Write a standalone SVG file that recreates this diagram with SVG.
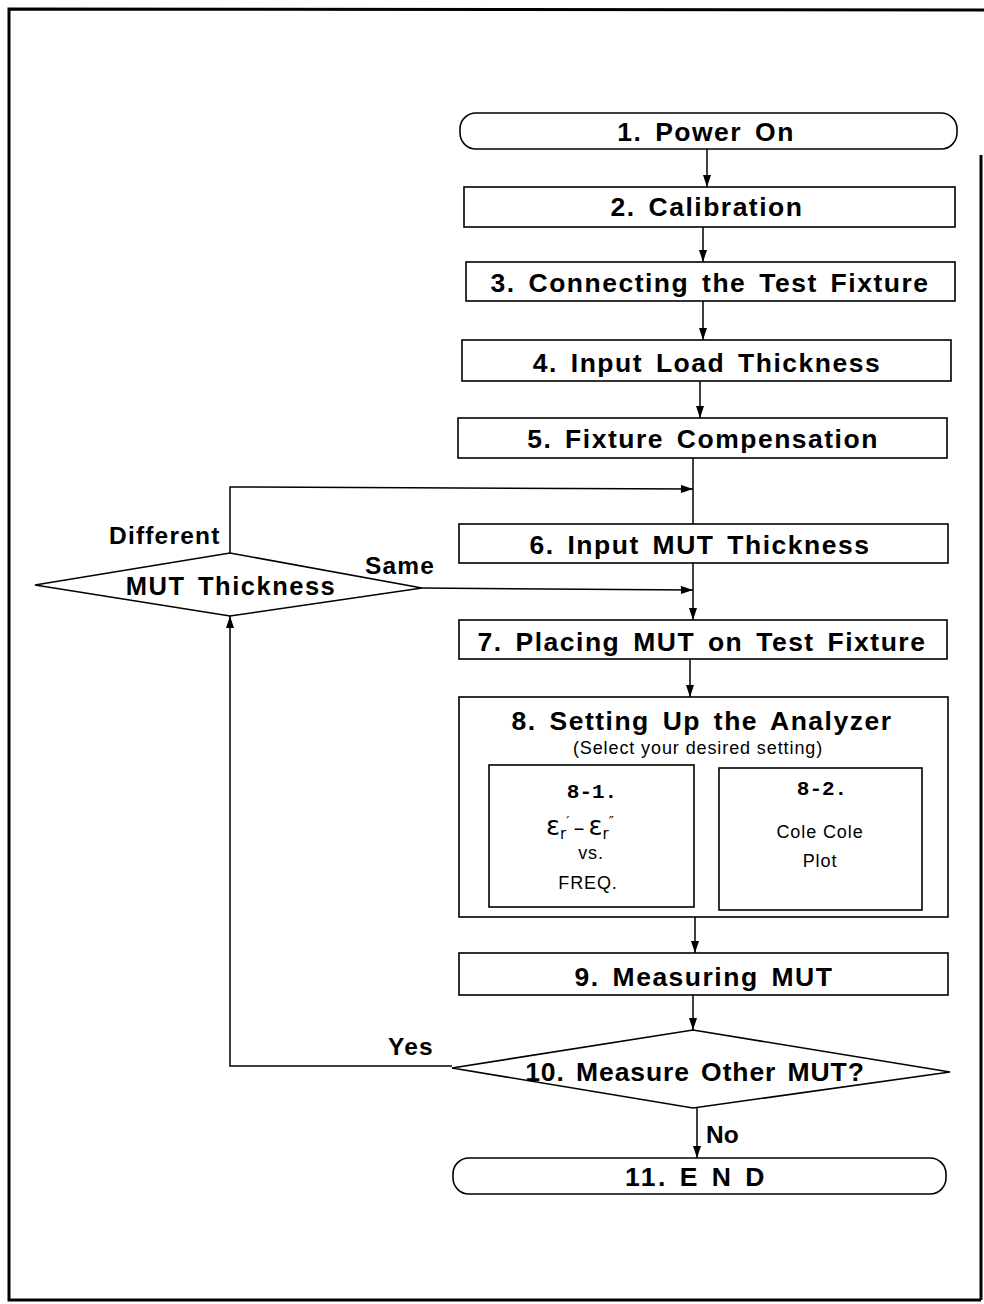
<svg xmlns="http://www.w3.org/2000/svg" width="984" height="1304" viewBox="0 0 984 1304">
<defs>
<marker id="ah" viewBox="0 0 12 8" refX="12" refY="4" markerWidth="12" markerHeight="8" markerUnits="userSpaceOnUse" orient="auto">
<path d="M0,0 L12,4 L0,8 Z" fill="#000"/>
</marker>
</defs>
<style>
.box{fill:#fff;stroke:#000;stroke-width:1.6}
.frame{fill:none;stroke:#000;stroke-width:3}
.ln{fill:none;stroke:#000;stroke-width:1.5}
.t{font-family:"Liberation Sans",Arial,sans-serif;font-weight:bold;font-size:26.5px;letter-spacing:1.5px;word-spacing:4px;text-anchor:middle;fill:#000}
.lb{font-family:"Liberation Sans",Arial,sans-serif;font-weight:bold;font-size:24.5px;letter-spacing:1.2px;fill:#000}
.s{font-family:"Liberation Sans",Arial,sans-serif;font-size:18px;letter-spacing:0.9px;text-anchor:middle;fill:#000}
.m{font-family:"Liberation Mono","Courier New",monospace;font-weight:bold;font-size:21px;text-anchor:middle;fill:#000}
.e{font-family:"DejaVu Sans",sans-serif;fill:#000}
</style>
<rect width="984" height="1304" fill="#fff"/>
<g id="frame">
<path class="frame" d="M984,10 L9,9 L9,1300 L981,1300 M981,1300 L981,155"/>
</g>
<g id="connectors">
<line class="ln" x1="707" y1="149" x2="707" y2="187" marker-end="url(#ah)"/>
<line class="ln" x1="703" y1="227" x2="703" y2="262" marker-end="url(#ah)"/>
<line class="ln" x1="703" y1="301" x2="703" y2="340" marker-end="url(#ah)"/>
<line class="ln" x1="700" y1="381" x2="700" y2="418" marker-end="url(#ah)"/>
<line class="ln" x1="693" y1="458" x2="693" y2="524"/>
<polyline class="ln" points="230,553 230,487 693,489" marker-end="url(#ah)"/>
<line class="ln" x1="693" y1="563" x2="693" y2="620" marker-end="url(#ah)"/>
<line class="ln" x1="422" y1="588" x2="693" y2="590" marker-end="url(#ah)"/>
<line class="ln" x1="690" y1="659" x2="690" y2="697" marker-end="url(#ah)"/>
<line class="ln" x1="695" y1="917" x2="695" y2="953" marker-end="url(#ah)"/>
<line class="ln" x1="693" y1="995" x2="693" y2="1030" marker-end="url(#ah)"/>
<polyline class="ln" points="452,1066 230,1066 230,616" marker-end="url(#ah)"/>
<line class="ln" x1="697" y1="1108" x2="697" y2="1158" marker-end="url(#ah)"/>
<text class="lb" x="109" y="544">Different</text>
<text class="lb" x="365" y="574">Same</text>
<text class="lb" x="388" y="1055">Yes</text>
<text class="lb" x="706" y="1143" style="letter-spacing:0">No</text>
</g>
<g id="n1">
<rect class="box" x="460" y="113" width="497" height="36" rx="16"/>
<text class="t" x="706" y="141">1. Power On</text>
</g>
<g id="n2">
<rect class="box" x="464" y="187" width="491" height="40"/>
<text class="t" x="707" y="216">2. Calibration</text>
</g>
<g id="n3">
<rect class="box" x="466" y="262" width="489" height="39"/>
<text class="t" x="710" y="292">3. Connecting the Test Fixture</text>
</g>
<g id="n4">
<rect class="box" x="462" y="340" width="489" height="41"/>
<text class="t" x="707" y="372">4. Input Load Thickness</text>
</g>
<g id="n5">
<rect class="box" x="458" y="418" width="489" height="40"/>
<text class="t" x="703" y="448">5. Fixture Compensation</text>
</g>
<g id="n6">
<rect class="box" x="459" y="524" width="489" height="39"/>
<text class="t" x="700" y="554">6. Input MUT Thickness</text>
</g>
<g id="dThick">
<polygon class="box" points="35,585 230,553 422,588 230,616"/>
<text class="t" x="231" y="595" style="font-size:25.5px">MUT Thickness</text>
</g>
<g id="n7">
<rect class="box" x="459" y="620" width="488" height="39"/>
<text class="t" x="702" y="651">7. Placing MUT on Test Fixture</text>
</g>
<g id="n8">
<rect class="box" x="459" y="697" width="489" height="220"/>
<text class="t" x="702" y="730">8. Setting Up the Analyzer</text>
<text class="s" x="698" y="754">(Select your desired setting)</text>
<g id="n8-1">
<rect class="box" x="489" y="765" width="205" height="142"/>
<text class="m" x="592" y="798">8-1.</text>
<text class="e" x="546" y="835" font-size="26">ε<tspan font-size="15" dy="4">r</tspan><tspan font-size="14" dy="-13">′</tspan><tspan font-size="22" dx="4" dy="9">–</tspan><tspan font-size="26" dx="4">ε</tspan><tspan font-size="15" dy="4">r</tspan><tspan font-size="14" dy="-13">″</tspan></text>
<text class="s" x="591" y="859">vs.</text>
<text class="s" x="588" y="889">FREQ.</text>
</g>
<g id="n8-2">
<rect class="box" x="719" y="768" width="203" height="142"/>
<text class="m" x="822" y="795">8-2.</text>
<text class="s" x="820" y="838">Cole Cole</text>
<text class="s" x="820" y="867">Plot</text>
</g>
</g>
<g id="n9">
<rect class="box" x="459" y="953" width="489" height="42"/>
<text class="t" x="704" y="986">9. Measuring MUT</text>
</g>
<g id="d10">
<polygon class="box" points="452,1068 693,1030 950,1072 693,1108"/>
<text class="t" x="695" y="1081" style="letter-spacing:0.9px;word-spacing:3px">10. Measure Other MUT?</text>
</g>
<g id="n11">
<rect class="box" x="453" y="1158" width="493" height="36" rx="16"/>
<text class="t" x="696" y="1186" style="letter-spacing:2.5px;word-spacing:2px">11. E N D</text>
</g>
</svg>
